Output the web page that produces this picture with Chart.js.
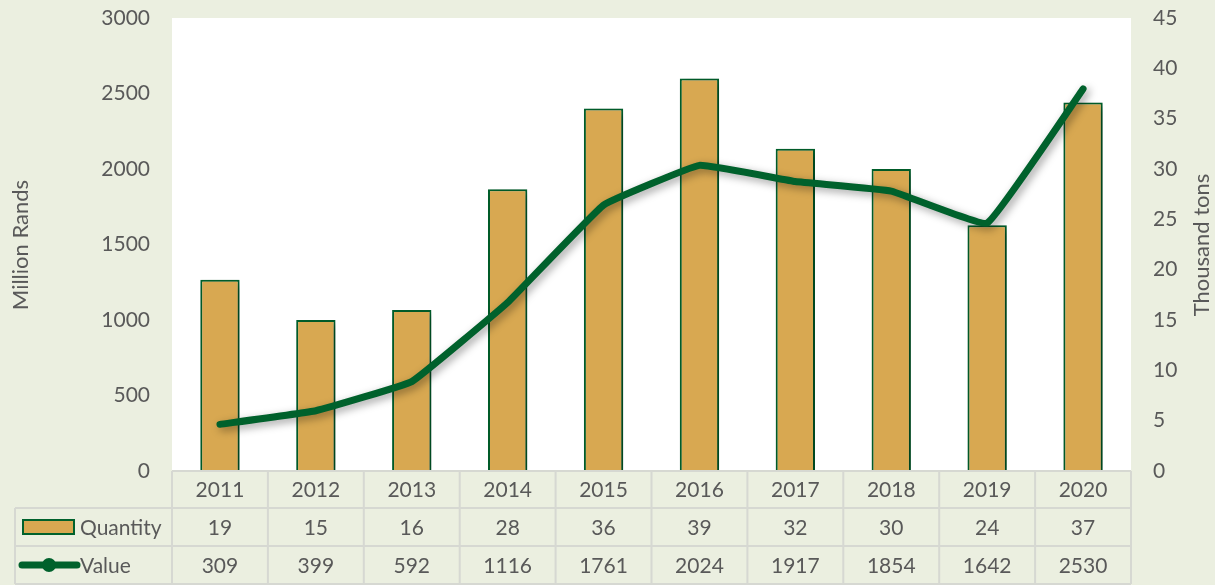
<!DOCTYPE html>
<html>
<head>
<meta charset="utf-8">
<script src="https://cdn.jsdelivr.net/npm/chart.js@4"></script>
<style>
  html, body { margin: 0; padding: 0; background: #ebefe0; }
  #wrap { width: 1215px; height: 585px; }
</style>
</head>
<body>
<div id="wrap"><canvas id="chart" width="1215" height="585"></canvas></div>
<script>
const years = ['2011', '2012', '2013', '2014', '2015', '2016', '2017', '2018', '2019', '2020'];
const quantity = [19, 15, 16, 28, 36, 39, 32, 30, 24.4, 36.6];    // thousand tons (table shows rounded)
const value = [309, 399, 592, 1116, 1761, 2024, 1917, 1854, 1642, 2530]; // million rands
const leftMax = 3000, leftStep = 500;
const rightMax = 45, rightStep = 5;

const bg = '#ebefe0';
const tan = '#d8a851';
const green = '#00612c';
const textCol = '#595959';
const gridCol = '#d6d8d2';
const fontFam = 'Lato, "Open Sans", sans-serif';

const bgPlugin = {
    id: 'bg',
    beforeDraw(chart) {
        let c = chart.ctx, a = chart.chartArea;
        c.save();
        c.fillStyle = bg;
        c.fillRect(0, 0, chart.width, chart.height);
        c.fillStyle = '#ffffff';
        c.fillRect(a.left, a.top, a.right - a.left, a.bottom - a.top);
        c.restore();
    }
};

const shadowPlugin = {
    id: 'shadow',
    beforeDatasetDraw(chart) {
        let c = chart.ctx;
        c.save();
        c.shadowColor = 'rgba(0,0,0,0.38)';
        c.shadowBlur = 8;
        c.shadowOffsetX = 3;
        c.shadowOffsetY = 3;
    },
    afterDatasetDraw(chart) {
        chart.ctx.restore();
    }
};

// data table under the plot + axis titles
const tablePlugin = {
    id: 'table',
    afterDraw(chart) {
        let c = chart.ctx, a = chart.chartArea;
        let n = years.length;
        let w = (a.right - a.left) / n;
        let rows = [a.bottom, 508, 546, 584];
        let leftEdge = 15;

        c.save();
        c.strokeStyle = gridCol;
        c.lineWidth = 2;
        c.beginPath();
        c.moveTo(a.left, rows[0]); c.lineTo(a.right, rows[0]);
        for (let r = 1; r < rows.length; r++) {
            c.moveTo(leftEdge, rows[r]); c.lineTo(a.right, rows[r]);
        }
        for (let i = 0; i <= n; i++) {
            let x = a.left + i * w;
            c.moveTo(x, rows[0]); c.lineTo(x, rows[3]);
        }
        c.moveTo(leftEdge, rows[1]); c.lineTo(leftEdge, rows[3]);
        c.stroke();

        c.fillStyle = textCol;
        c.font = '21px ' + fontFam;
        c.textAlign = 'center';
        c.textBaseline = 'middle';
        for (let i = 0; i < n; i++) {
            let x = a.left + (i + 0.5) * w;
            c.fillText(years[i], x, (rows[0] + rows[1]) / 2 + 1);
            c.fillText(String(Math.round(quantity[i])), x, (rows[1] + rows[2]) / 2 + 1);
            c.fillText(String(value[i]), x, (rows[2] + rows[3]) / 2 + 1);
        }

        // legend keys
        let y1 = (rows[1] + rows[2]) / 2, y2 = (rows[2] + rows[3]) / 2;
        c.fillStyle = tan;
        c.fillRect(23, y1 - 7, 51, 14);
        c.strokeStyle = green;
        c.lineWidth = 2;
        c.strokeRect(23, y1 - 7, 51, 14);

        c.strokeStyle = green;
        c.lineWidth = 7;
        c.lineCap = 'round';
        c.beginPath();
        c.moveTo(22, y2); c.lineTo(77, y2);
        c.stroke();
        c.fillStyle = green;
        c.beginPath();
        c.arc(49, y2, 7, 0, Math.PI * 2);
        c.fill();

        c.fillStyle = textCol;
        c.textAlign = 'left';
        c.fillText('Quantity', 80, y1 + 1);
        c.fillText('Value', 80, y2 + 1);

        // axis titles
        c.font = '22px ' + fontFam;
        c.textAlign = 'center';
        c.save();
        c.translate(21, 245);
        c.rotate(-Math.PI / 2);
        c.fillText('Million Rands', 0, 0);
        c.restore();
        c.save();
        c.translate(1202, 245);
        c.rotate(-Math.PI / 2);
        c.fillText('Thousand tons', 0, 0);
        c.restore();
        c.restore();
    }
};

let ctx = document.getElementById('chart').getContext('2d');
new Chart(ctx, {
    data: {
        labels: years,
        datasets: [{
            type: 'line',
            label: 'Value',
            data: value,
            yAxisID: 'yL',
            borderColor: green,
            borderWidth: 7,
            pointRadius: 0,
            tension: 0.08,
            borderCapStyle: 'round',
            borderJoinStyle: 'round',
            order: 0
        }, {
            type: 'bar',
            label: 'Quantity',
            data: quantity,
            yAxisID: 'yR',
            backgroundColor: tan,
            borderColor: green,
            borderWidth: 2,
            barPercentage: 0.41,
            categoryPercentage: 1,
            order: 1
        }]
    },
    options: {
        responsive: false,
        animation: false,
        layout: { padding: { top: 18, left: 0, right: 0, bottom: 0 } },
        plugins: {
            legend: { display: false },
            tooltip: { enabled: false }
        },
        scales: {
            x: {
                offset: true,
                grid: { display: false, drawTicks: false },
                border: { display: false },
                ticks: { display: false },
                afterFit(s) { s.height = 114; }
            },
            yL: {
                position: 'left',
                min: 0,
                max: leftMax,
                grid: { display: false, drawTicks: true, tickLength: 22 },
                border: { display: false },
                ticks: {
                    stepSize: leftStep, padding: 0, color: textCol,
                    font: { family: fontFam, size: 21 },
                    callback: v => String(v)
                },
                afterFit(s) { s.width = 172; }
            },
            yR: {
                position: 'right',
                min: 0,
                max: rightMax,
                grid: { display: false, drawTicks: true, tickLength: 22 },
                border: { display: false },
                ticks: {
                    stepSize: rightStep, padding: 0, color: textCol,
                    font: { family: fontFam, size: 21 },
                    callback: v => String(v)
                },
                afterFit(s) { s.width = 84; }
            }
        }
    },
    plugins: [bgPlugin, shadowPlugin, tablePlugin]
});
</script>
</body>
</html>
